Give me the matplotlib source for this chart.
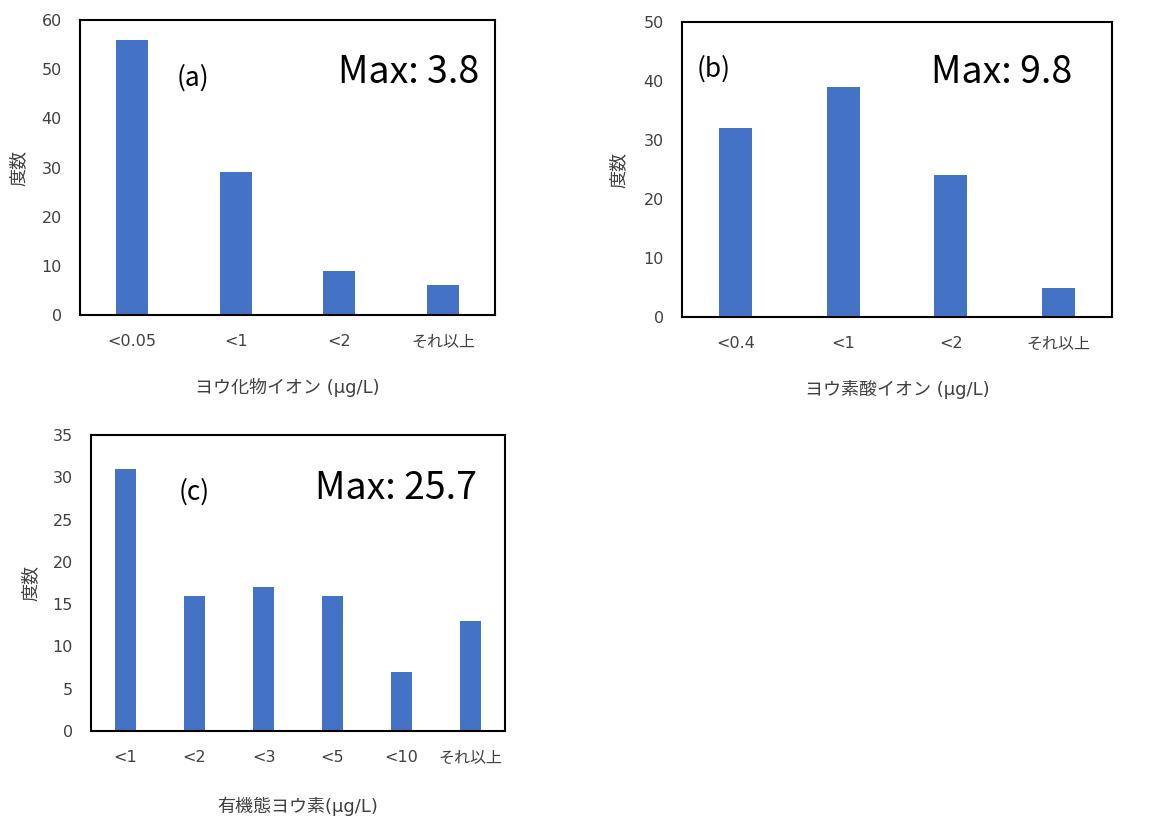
import matplotlib
matplotlib.use("Agg")
import matplotlib.pyplot as plt
import numpy as np

# Latin glyphs from DejaVu, Japanese falls back to Noto CJK
plt.rcParams['font.family'] = ['DejaVu Sans', 'Noto Sans CJK JP']
NOTO = ['Noto Sans CJK JP', 'DejaVu Sans']

# histogram counts per concentration bin
iodide_bins = ["<0.05", "<1", "<2", "それ以上"]
iodide_counts = [56, 29, 9, 6]

iodate_bins = ["<0.4", "<1", "<2", "それ以上"]
iodate_counts = [32, 39, 24, 5]

organic_bins = ["<1", "<2", "<3", "<5", "<10", "それ以上"]
organic_counts = [31, 16, 17, 16, 7, 13]

BAR_COLOR = "#4472C4"
TICK_COLOR = "#404040"
W, H = 1168, 821


def px_axes(fig, left, top, right, bottom):
    return fig.add_axes([left / W, 1 - bottom / H, (right - left) / W, (bottom - top) / H])


def draw_hist(ax, bins, counts, ymax, ystep, xlabel, tag, tag_pos, max_text, max_pos, xlabel_y):
    x = np.arange(len(bins))
    ax.bar(x, counts, width=0.31, color=BAR_COLOR)
    ax.set_xlim(-0.5, len(bins) - 0.5)
    ax.set_ylim(0, ymax)
    ax.set_yticks(np.arange(0, ymax + 1, ystep))
    ax.set_xticks(x)
    ax.set_xticklabels(bins)
    ax.tick_params(length=0, labelsize=11.5, colors=TICK_COLOR)
    ax.tick_params(axis='y', pad=13)
    ax.tick_params(axis='x', pad=14)
    for sp in ax.spines.values():
        sp.set_linewidth(1.5)
        sp.set_color("black")
    ax.text(-0.147, 0.5, "度数", transform=ax.transAxes, rotation=90,
            ha='center', va='center', fontsize=13, color=TICK_COLOR)
    ax.text(0.5, xlabel_y, xlabel, transform=ax.transAxes,
            ha='center', va='center', fontsize=13, color=TICK_COLOR)
    ax.text(tag_pos[0], tag_pos[1], tag, transform=ax.transAxes,
            ha='left', va='baseline', fontsize=19, color='black', family=NOTO)
    ax.text(max_pos[0], max_pos[1], max_text, transform=ax.transAxes,
            ha='right', va='baseline', fontsize=27, color='black', family=NOTO)


fig = plt.figure(figsize=(W / 100, H / 100), dpi=100)

ax_a = px_axes(fig, 80, 20, 495, 315)
draw_hist(ax_a, iodide_bins, iodide_counts, 60, 10, "ヨウ化物イオン (μg/L)",
          "(a)", (0.233, 0.776), "Max: 3.8", (0.961, 0.787), -0.247)

ax_b = px_axes(fig, 682, 22, 1112, 317)
draw_hist(ax_b, iodate_bins, iodate_counts, 50, 10, "ヨウ素酸イオン (μg/L)",
          "(b)", (0.035, 0.813), "Max: 9.8", (0.907, 0.794), -0.247)

ax_c = px_axes(fig, 91, 435, 505, 731)
draw_hist(ax_c, organic_bins, organic_counts, 35, 5, "有機態ヨウ素(μg/L)",
          "(c)", (0.211, 0.781), "Max: 25.7", (0.932, 0.784), -0.254)

fig.savefig("out.png", dpi=100)
